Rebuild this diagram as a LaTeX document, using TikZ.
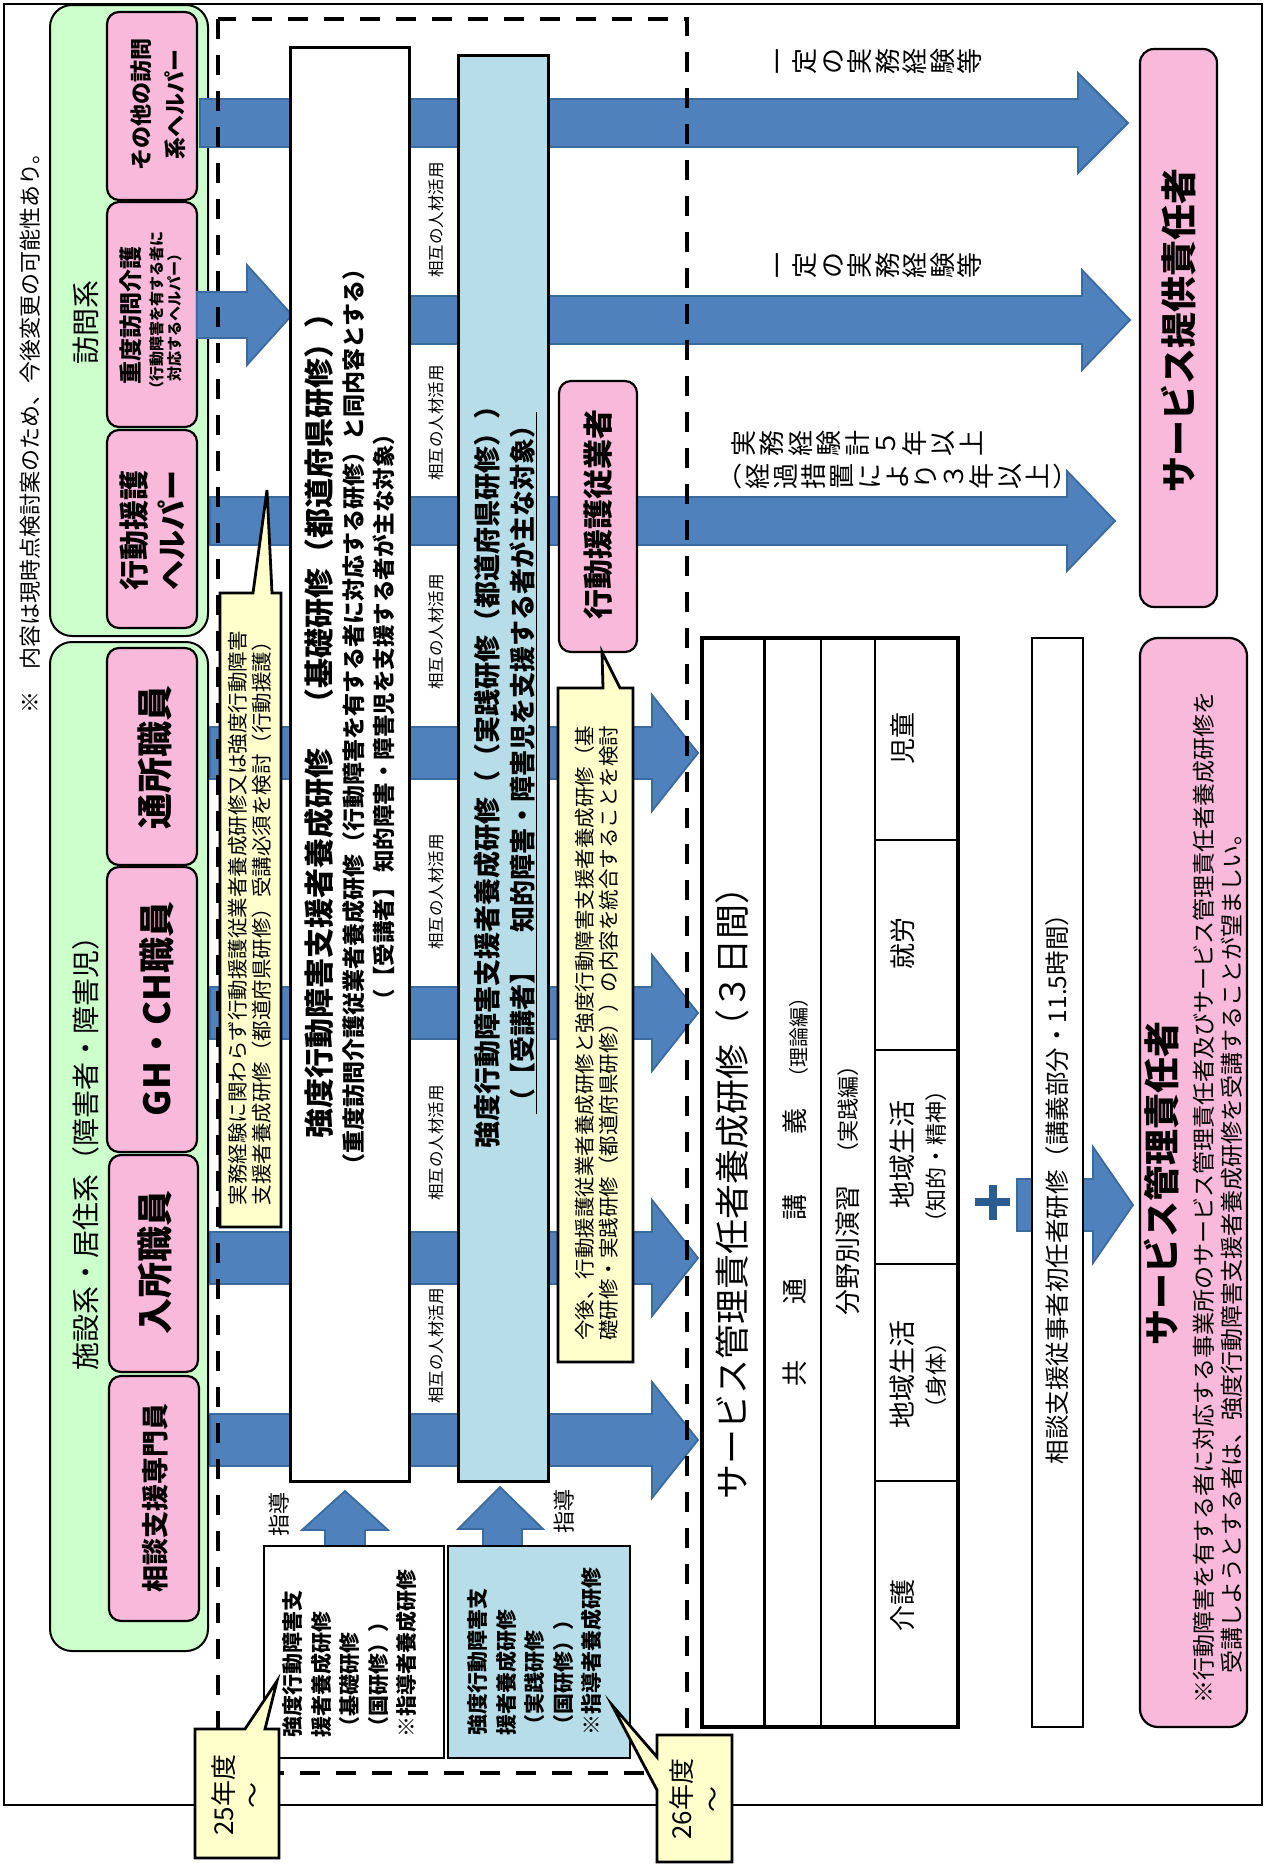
\documentclass[tikz,border=0pt]{standalone}
\usepackage{fontspec}
\setmainfont{Noto Sans CJK JP}
\definecolor{pinkc}{HTML}{F9B9DA}
\definecolor{greenc}{HTML}{CCFFCC}
\definecolor{yelc}{HTML}{FFFFCC}
\definecolor{lblue}{HTML}{B7DEE8}
\definecolor{arrowc}{HTML}{4F81BD}
\definecolor{arrowd}{HTML}{3A6A9E}
\definecolor{plusc}{HTML}{2B5C8F}
\newcommand\fz[2]{\fontsize{#1}{#2}\selectfont}
\newcommand\emstrut{\rule{0pt}{0.88em}}
% block arrow to the right: x0, xbase, xtip, ycenter, body half, head half
\newcommand\rarrow[6]{%
  \filldraw[fill=arrowc, draw=arrowd, line width=1.8pt]
    (#1,#4-#5) -- (#2,#4-#5) -- (#2,#4-#6) -- (#3,#4) -- (#2,#4+#6)
    -- (#2,#4+#5) -- (#1,#4+#5) -- cycle;}
\tikzset{
  rt/.style={rotate=90, inner sep=0pt, align=center},
  pinkbox/.style={draw=black, line width=2.2pt, fill=pinkc, rounded corners=12pt},
  greenbox/.style={draw=black, line width=2pt, fill=greenc, rounded corners=22pt},
  yel/.style={draw=black, line width=2.8pt, fill=yelc},
  upar/.style={fill=arrowc, draw=arrowd, line width=1.8pt},
}
\begin{document}
\begin{tikzpicture}[x=1pt,y=-1pt]
\useasboundingbox (0,0) rectangle (1264,1866);
\fill[white] (0,0) rectangle (1264,1866);
% outer frame
\draw[line width=1.6pt] (4,4) rectangle (1262,1805);
\node[rt, font=\fz{22}{24}] (note) at (30,428) {※　内容は現時点検討案のため、今後変更の可能性あり。};

% green groups
\draw[greenbox] (50,5) rectangle (208,636);
\draw[greenbox] (50,642) rectangle (208,1651);
\node[rt, font=\fz{28}{30}] (v0) at (86,322) {訪問系};
\node[rt, font=\fz{28}{30}] (f0) at (86,1146) {施設系・居住系（障害者・障害児）};

% pink boxes (visit)
\draw[pinkbox] (107,12) rectangle (197,200);
\node[rt, font=\bfseries\fz{22}{34}] (v1) at (158,104) {その他の訪問\\系ヘルパー};
\draw[pinkbox] (107,202) rectangle (197,427);
\node[rt, font=\bfseries\fz{23}{25}] (v2) at (131,315) {重度訪問介護};
\node[rt, font=\bfseries\fz{15}{18}] (v2b) at (165.5,314) {（行動障害を有する者に\\対応するヘルパー）};
\draw[pinkbox] (107,430) rectangle (197,628);
\node[rt, align=left, font=\bfseries\fz{30}{38}] (v3) at (152.5,530) {行動援護\\ヘルパー};

% pink boxes (facility)
\draw[pinkbox] (107,648) rectangle (197,865);
\node[rt, font=\bfseries\fz{36}{40}] (w1) at (154.5,757) {通所職員};
\draw[pinkbox] (107,867) rectangle (197,1152);
\node[rt, font=\bfseries\fz{36}{40}] (w2) at (156.5,1009) {GH・CH職員};
\draw[pinkbox] (109,1155) rectangle (198,1372);
\node[rt, font=\bfseries\fz{36}{40}] (w3) at (155,1262) {入所職員};
\draw[pinkbox] (109,1376) rectangle (199,1621);
\node[rt, font=\bfseries\fz{27}{30}] (w4) at (155.5,1498) {相談支援専門員};

% big arrows
\rarrow{200}{1078}{1128}{123}{24}{50}
\rarrow{350}{1082}{1130}{320}{24}{50}
\rarrow{210}{1067}{1115}{521}{24}{50}
\rarrow{197}{247}{292}{315}{23}{50}
\rarrow{210}{652}{698}{753}{26}{58}
\rarrow{210}{652}{698}{1013}{26}{58}
\rarrow{210}{652}{698}{1258}{26}{58}
\rarrow{210}{652}{698}{1440}{26}{58}
\rarrow{1017}{1093}{1133}{1205}{26}{58}

% dashed frame
\draw[line width=4pt, dash pattern=on 20pt off 16pt] (218,19) rectangle (687,1773);

% training boxes
\draw[line width=3pt, fill=white] (290,47) rectangle (409,1481);
\node[rt, font=\bfseries\fz{30}{34}] (k1) at (319,718) {強度行動障害支援者養成研修　（基礎研修（都道府県研修））};
\node[rt, font=\bfseries\fz{23}{26}] (k2) at (354,717) {（重度訪問介護従業者養成研修（行動障害を有する者に対応する研修）と同内容とする）};
\node[rt, font=\bfseries\fz{22.5}{26}] (k3) at (384,717) {（【受講者】\,知的障害・障害児を支援する者が主な対象）};

\draw[line width=3pt, fill=lblue] (458,55) rectangle (548,1481);
\node[rt, font=\bfseries\fz{27}{30}] (j1) at (487,770) {強度行動障害支援者養成研修（（実践研修（都道府県研修））};
\node[rt, font=\bfseries\fz{26}{30}] (j2) at (522,763) {（【受講者】　知的障害・障害児を支援する者が主な対象）};
\draw[line width=1.5pt] ([xshift=1.5pt]j2.south west) -- ([xshift=1.5pt]j2.south east);

\foreach \yy [count=\i] in {220,423,632,892,1143,1346}
  \node[rt, font=\fz{16.5}{18}] (s\i) at (436,\yy) {相互の人材活用};

% yellow callout 1
\draw[yel] (220,593) -- (253,593) -- (267,490) -- (272,593) -- (281,593) -- (281,1227) -- (220,1227) -- cycle;
\node[rt, align=left, font=\fz{20.5}{24}] (y1) at (250,918) {実務経験に関わらず行動援護従業者養成研修又は強度行動障害\\支援者養成研修（都道府県研修）受講必須を検討（行動援護）};

% 行動援護従業者
\draw[pinkbox] (559,381) rectangle (637,652);
\node[rt, font=\bfseries\fz{30}{32}] (h1) at (598,514) {行動援護従業者};
\draw[yel] (558,688) -- (603,688) -- (602,652) -- (620,688) -- (633,688) -- (633,1362) -- (558,1362) -- cycle;
\node[rt, align=left, font=\fz{20.5}{24}] (y2) at (597,1033) {今後、行動援護従業者養成研修と強度行動障害支援者養成研修（基\\礎研修・実践研修（都道府県研修））の内容を統合することを検討};

% instructor training
\filldraw[upar] (325,1546) -- (325,1530) -- (302,1530) -- (345,1491) -- (388,1530) -- (365,1530) -- (365,1546) -- cycle;
\filldraw[upar] (483,1546) -- (483,1529) -- (458,1529) -- (500,1487) -- (543,1529) -- (522,1529) -- (522,1546) -- cycle;
\draw[line width=2pt, fill=white] (264,1546) rectangle (444,1758);
\draw[line width=2pt, fill=lblue] (448,1546) rectangle (630,1758);
\node[rt, align=left, font=\bfseries\fz{21}{28.5}] (i1) at (350,1653) {強度行動障害支\\援者養成研修\\（基礎研修\\（国研修））\\※指導者養成研修};
\node[rt, align=left, font=\bfseries\fz{21}{28.5}] (i2) at (535,1651) {強度行動障害支\\援者養成研修\\（実践研修\\（国研修））\\※指導者養成研修};
\node[rt, font=\fz{22}{24}] (g1) at (279,1514) {指導};
\node[rt, font=\fz{22}{24}] (g2) at (564,1511) {指導};

% year callouts
\draw[yel] (195,1729) -- (245,1729) -- (277,1681) -- (265,1729) -- (279,1729) -- (279,1858) -- (195,1858) -- cycle;
\node[rt, font=\fz{26}{29}] (n25) at (237,1795) {25年度\\～};
\draw[yel] (657,1735) -- (732,1735) -- (732,1862) -- (657,1862) -- (657,1790) -- (612,1705) -- (657,1757) -- cycle;
\node[rt, font=\fz{26}{31}] (n26) at (696,1799) {26年度\\～};

% experience labels (vertical writing)
\node[rt, anchor=north, font=\fz{26}{27.5}] (e1) at (764,61) {\emstrut 一\\定\\の\\実\\務\\経\\験\\等};
\node[rt, anchor=north, font=\fz{26}{27.5}] (e2) at (764,265) {\emstrut 一\\定\\の\\実\\務\\経\\験\\等};
\node[rt, anchor=north, font=\fz{26}{28.5}] (e3) at (730,443) {\emstrut 実\\務\\経\\験\\計\\５\\年\\以\\上};
\node[rt, anchor=north, font=\fz{26}{28}] (e4) at (716,476) {\emstrut ︵\\経\\過\\措\\置\\に\\よ\\り\\３\\年\\以\\上\\︶};

% service provider
\draw[pinkbox, rounded corners=14pt] (1140,49) rectangle (1217,607);
\node[rt, font=\bfseries\fz{36}{40}] (sp) at (1179,330) {サービス提供責任者};

% training table
\draw[line width=4.5pt, fill=white] (702,638) rectangle (958,1727);
\draw[line width=3pt] (764,638) -- (764,1727);
\draw[line width=2.2pt] (821,638) -- (821,1727);
\draw[line width=2.5pt] (875,638) -- (875,1727);
\foreach \yy in {840,1050,1264,1481}
  \draw[line width=2.5pt] (875,\yy) -- (958,\yy);
\node[rt, font=\fz{35}{38}] (tt) at (732,1184) {サービス管理責任者養成研修（３日間）};
\node[rt, font=\fz{26}{28}] (c1) at (795,1373) {共};
\node[rt, font=\fz{26}{28}] (c2) at (795,1291) {通};
\node[rt, font=\fz{26}{28}] (c3) at (795,1207) {講};
\node[rt, font=\fz{26}{28}] (c4) at (795,1121) {義};
\node[rt, font=\fz{20}{22}] (c5) at (799,1037) {（理論編）};
\node[rt, font=\fz{26}{28}] (b1) at (848,1250) {分野別演習};
\node[rt, font=\fz{22}{24}] (b2) at (848,1109) {（実践編）};
\node[rt, font=\fz{26}{28}] (d1) at (903,738) {児童};
\node[rt, font=\fz{26}{28}] (d2) at (903,943) {就労};
\node[rt, font=\fz{27}{28}] (d3a) at (902,1154) {地域生活};
\node[rt, font=\fz{22}{24}] (d3b) at (936,1156) {（知的・精神）};
\node[rt, font=\fz{27}{28}] (d4a) at (902,1374) {地域生活};
\node[rt, font=\fz{22}{24}] (d4b) at (936,1375) {（身体）};
\node[rt, font=\fz{26}{28}] (d5) at (903,1605) {介護};

% plus
\draw[plusc, line width=8pt] (975,1202) -- (1010,1202);
\draw[plusc, line width=8pt] (992.5,1185) -- (992.5,1220);

% consultation training
\draw[line width=2pt, fill=white] (1032,638) rectangle (1083,1727);
\node[rt, font=\fz{24.5}{27}] (sd) at (1057,1183) {相談支援従事者初任者研修（講義部分・11.5時間）};

% service manager
\draw[pinkbox, rounded corners=18pt] (1140,638) rectangle (1247,1727);
\node[rt, font=\bfseries\fz{36}{40}] (sk) at (1162,1183) {サービス管理責任者};
\node[rt, align=left, font=\fz{23}{28}] (sn) at (1218,1197) {※行動障害を有する者に対応する事業所のサービス管理責任者及びサービス管理責任者養成研修を\\\hspace*{1.3em}受講しようとする者は、強度行動障害支援者養成研修を受講することが望ましい。};
\end{tikzpicture}
\end{document}
